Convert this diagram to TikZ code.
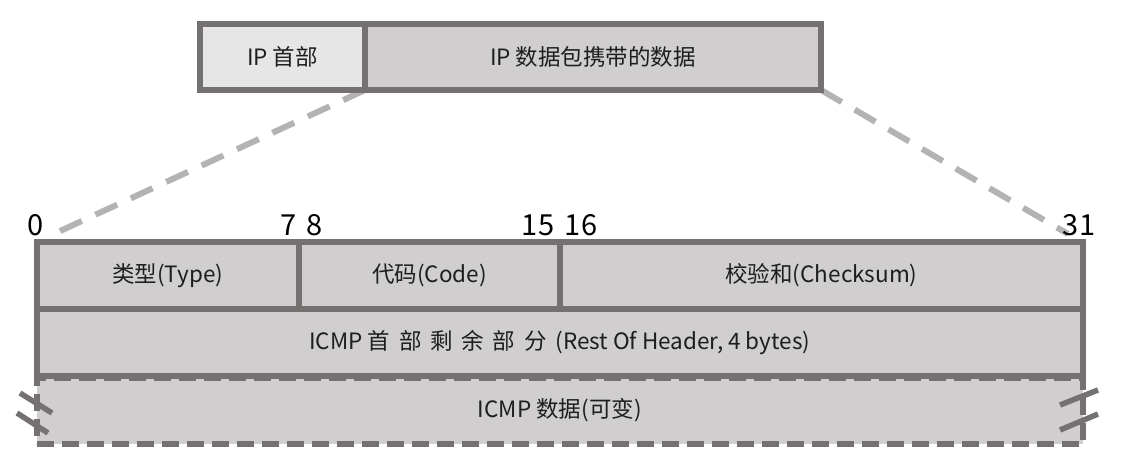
\documentclass[tikz,border=0pt]{standalone}
\usepackage{fontspec}
\setmainfont{Noto Sans CJK SC}
\usetikzlibrary{backgrounds,calc}
\definecolor{bord}{HTML}{767171}
\definecolor{rowfill}{HTML}{D0CECE}
\definecolor{hdrfill}{HTML}{E7E6E6}
\definecolor{connc}{HTML}{B4B2B2}
\definecolor{txt}{HTML}{1E1E1E}
\tikzset{
  field/.style={draw=bord, line width=6pt, fill=rowfill, inner sep=0pt, outer sep=0pt,
    text=txt, font=\fontsize{22.5}{26}\selectfont},
  dfield/.style={field, dash pattern=on 17pt off 8pt},
  conn/.style={draw=connc, line width=6pt, dash pattern=on 24pt off 15pt},
  bitnum/.style={text=black, font=\fontsize{29}{32}\selectfont, anchor=base, inner sep=0pt},
  brk/.style={draw=bord, line width=5.5pt}
}
\begin{document}
\begin{tikzpicture}[x=1pt,y=-1pt]
\useasboundingbox (0,0) rectangle (1122,466);
% top IP packet
\node[field, fill=hdrfill, minimum width=165pt, minimum height=66pt] (iphdr) at (282.5,57) {IP 首部};
\node[field, minimum width=456pt, minimum height=66pt] (ipdata) at (593,57) {IP 数据包携带的数据};
% bit numbers
\node[bitnum] (n0) at (35.5,235) {0};
\node[bitnum] (n7) at (289,235) {7};
\node[bitnum] (n8) at (314.5,235) {8};
\node[bitnum] (n15) at (538,235) {15};
\node[bitnum] (n16) at (581,235) {16};
\node[bitnum] (n31) at (1079,235) {31};
% ICMP rows
\node[dfield, minimum width=1046.5pt, minimum height=66pt] (data) at (559.75,410.5) {ICMP 数据(可变)};
\node[field, minimum width=1046.5pt, minimum height=67pt] (rest) at (559.75,342.5) {ICMP 首\,  部\,  剩\,  余\,  部\,  分\, (Rest Of Header, 4 bytes)};
\node[field, minimum width=262.5pt, minimum height=67pt] (type) at (167.75,275.5) {类型(Type)};
\node[field, minimum width=261pt, minimum height=67pt] (code) at (429.5,275.5) {代码(Code)};
\node[field, minimum width=523pt, minimum height=67pt] (cksum) at (821.5,275.5) {校验和(Checksum)};
% connectors
\coordinate (cl) at (58,232);
\coordinate (cr) at (1068,234);
\begin{scope}[on background layer]
\draw[conn] (ipdata.south west) -- (cl);
\draw[conn] (ipdata.south east) -- (cr);
\end{scope}
% break marks
\draw[brk] (20,393) -- (52,413);
\draw[brk] (17,413) -- (48,433);
\draw[brk] (1060,405) -- (1098,390);
\draw[brk] (1060,430) -- (1098,414);
\end{tikzpicture}
\end{document}
